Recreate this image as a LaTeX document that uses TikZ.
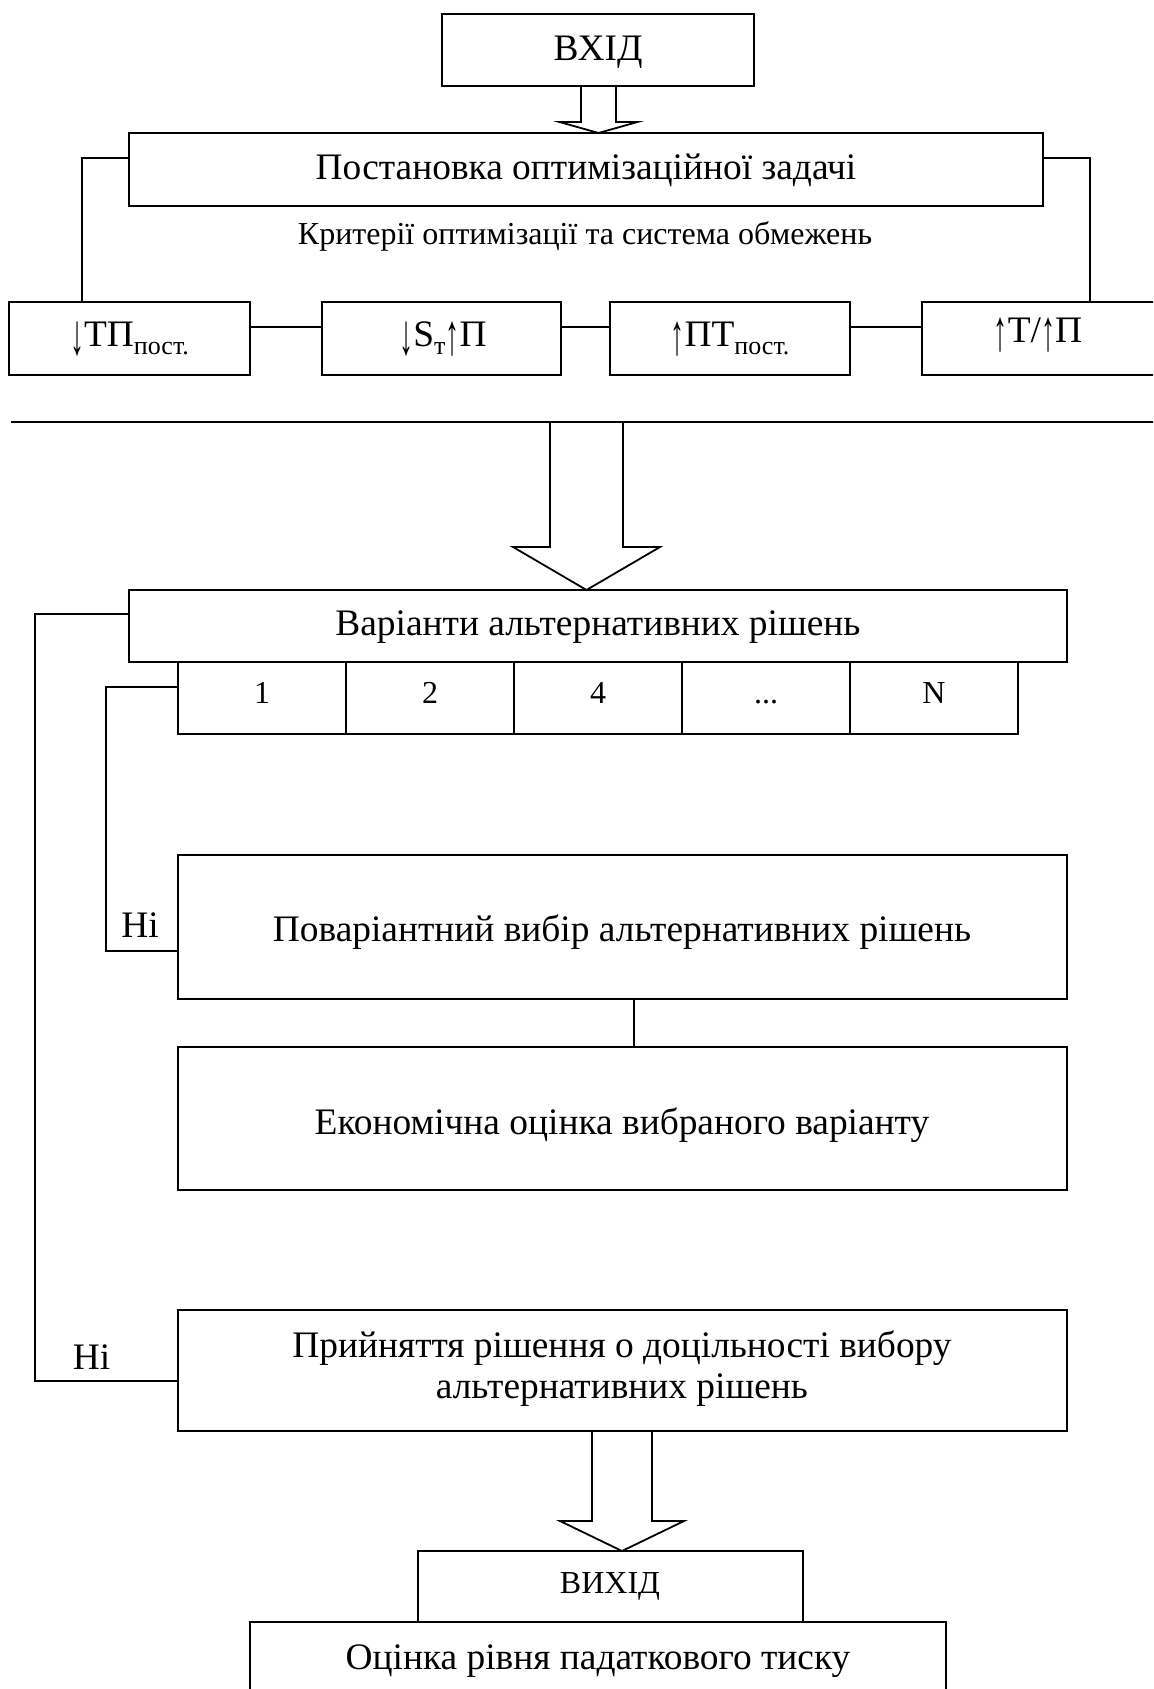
\documentclass[tikz,border=0pt]{standalone}
\usepackage{fontspec}
\usepackage{graphicx}
\setmainfont{Liberation Serif}
\usetikzlibrary{calc}

% one drawing unit = 0.5pt
\newcommand\pxu{0.5pt}
\newcommand\bigsz{\fontsize{18.7pt}{19.5pt}\selectfont}
\newcommand\smallsz{\fontsize{16pt}{19pt}\selectfont}
\newcommand\lowsub[1]{\raisebox{-0.2em}{\fontsize{13pt}{13pt}\selectfont #1}}
% tall thin arrow glyphs for the criteria
\newcommand\tallarr[1]{\raisebox{-0.2em}{\scalebox{0.75}[1.55]{#1}}}
% hollow block arrow: top point, tip point, stem half-width, head half-width, head length
\newcommand\blockarrow[5]{%
  \draw[outline] ($(#1)+(-#3,0)$) -- ($(#2)+(-#3,-#5)$) -- ($(#2)+(-#4,-#5)$) -- (#2)
    -- ($(#2)+(#4,-#5)$) -- ($(#2)+(#3,-#5)$) -- ($(#1)+(#3,0)$);}

\begin{document}
\begin{tikzpicture}[x=0.5pt,y=-0.5pt,line width=0.9pt,
  bx/.style 2 args={draw,inner sep=0pt,minimum width=#1*\pxu,minimum height=#2*\pxu},
  outline/.style={draw},
  txt/.style={anchor=base,inner sep=0pt,font=\bigsz},
  stxt/.style={anchor=base,inner sep=0pt,font=\smallsz}]
\useasboundingbox (0,0) rectangle (1153,1689);
\clip (0,0) rectangle (1153,1689);

% input and problem statement
\node[bx={312}{72}] (vx) at (598,50) {};
\node[txt] (vxt) at (598,61) {ВХІД};
\node[bx={914}{73}] (pz) at (586,169.5) {};
\node[txt] (pzt) at (586,180) {Постановка оптимізаційної задачі};
\node[stxt] (crit) at (585,245) {Критерії оптимізації та система обмежень};

% criteria row
\node[bx={241}{73}] (b1) at (129.5,338.5) {};
\node[bx={239}{73}] (b2) at (441.5,338.5) {};
\node[bx={240}{73}] (b3) at (730,338.5) {};
\node[bx={240}{73}] (b4) at (1042,338.5) {};
\node[txt] (b1t) at (129.5,347) {\tallarr{↓}ТП\lowsub{пост.}};
\node[txt] (b2t) at (443,347) {\tallarr{↓}S\lowsub{т}\tallarr{↑}П};
\node[txt] (b3t) at (730,347) {\tallarr{↑}ПТ\lowsub{пост.}};
\node[txt] (b4t) at (1038,343) {\tallarr{↑}Т/\tallarr{↑}П};

\coordinate (lA) at (82,158);
\coordinate (rA) at (1090,158);
\draw (pz.west |- lA) -| (b1.north -| lA);
\draw (pz.east |- rA) -| (b4.north -| rA);
\coordinate (rowY) at (0,327);
\draw (b1.east |- rowY) -- (b2.west |- rowY);
\draw (b2.east |- rowY) -- (b3.west |- rowY);
\draw (b3.east |- rowY) -- (b4.west |- rowY);

\coordinate (a1tip) at (598.5,133);
\blockarrow{vx.south -| a1tip}{a1tip}{17.5}{39}{11}

% separator line and main arrow
\coordinate (hl0) at (11,422);
\coordinate (hl1) at (1165,422);
\draw (hl0) -- (hl1);

% alternatives
\node[bx={938}{72}] (var) at (598,626) {};
\node[txt] (vart) at (598,635) {Варіанти альтернативних рішень};
\node[bx={168}{72}] (n1) at (262,698) {};
\node[bx={168}{72}] (n2) at (430,698) {};
\node[bx={168}{72}] (n3) at (598,698) {};
\node[bx={168}{72}] (n4) at (766,698) {};
\node[bx={168}{72}] (n5) at (934,698) {};
\node[stxt] (n1t) at (262,703) {1};
\node[stxt] (n2t) at (430,703) {2};
\node[stxt] (n3t) at (598,703) {4};
\node[stxt] (n4t) at (766,703) {...};
\node[stxt] (n5t) at (934,703) {N};

\coordinate (a2tip) at (586.5,590);
\blockarrow{hl0 -| a2tip}{a2tip}{36.5}{73.5}{43}

% selection and evaluation
\node[bx={889}{144}] (pov) at (622.5,927) {};
\node[txt] (povt) at (622,941) {Поваріантний вибір альтернативних рішень};
\node[bx={889}{143}] (eco) at (622.5,1118.5) {};
\node[txt] (ecot) at (622,1134) {Економічна оцінка вибраного варіанту};
\node[bx={889}{121}] (pry) at (622.5,1370.5) {};
\node[txt] (pryt1) at (622,1357) {Прийняття рішення о доцільності вибору};
\node[txt] (pryt2) at (622,1398) {альтернативних рішень};

\coordinate (pe) at (634,1000);
\draw (pov.south -| pe) -- (eco.north -| pe);

% feedback loops
\node[txt] (no1) at (140,937) {Ні};
\node[txt] (no2) at (91.5,1369) {Ні};
\coordinate (oT) at (35,614);
\coordinate (oB) at (35,1381);
\draw (var.west |- oT) -- (oT) -- (oB) -- (pry.west |- oB);
\coordinate (iT) at (106,687);
\coordinate (iB) at (106,951);
\draw (n1.west |- iT) -- (iT) -- (iB) -- (pov.west |- iB);

% output
\node[bx={385}{71}] (vyh) at (610.5,1586.5) {};
\node[stxt] (vyht) at (610,1593) {ВИХІД};
\node[bx={696}{100}] (ots) at (598,1672) {};
\node[txt] (otst) at (598,1669) {Оцінка рівня падаткового тиску};
\coordinate (a3tip) at (622,1551);
\blockarrow{pry.south -| a3tip}{a3tip}{30}{62}{30}

\end{tikzpicture}
\end{document}
